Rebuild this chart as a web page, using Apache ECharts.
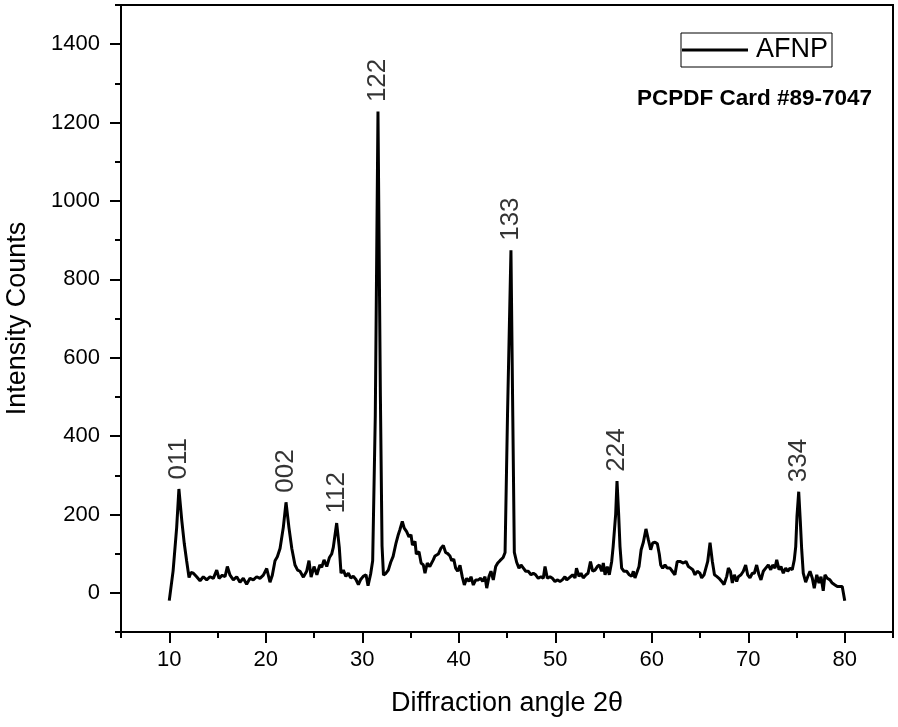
<!DOCTYPE html>
<html>
<head>
<meta charset="utf-8">
<script src="https://cdn.jsdelivr.net/npm/echarts@6/dist/echarts.min.js"></script>
<style>
  html, body { margin: 0; padding: 0; background: #fff; }
  #chart { width: 898px; height: 727px; }
</style>
</head>
<body>
<div id="chart"></div>
<script>
// 衍射角 2θ
const angle = [
  10.0, 10.4, 10.77, 11.0, 11.3, 11.56, 11.8, 12.05, 12.25, 12.5, 12.84, 13.19, 13.53, 13.88, 14.22, 14.57,
  14.92, 15.16, 15.5, 15.78, 16.02, 16.3, 16.64, 16.99, 17.33, 17.67, 18.02, 18.37, 18.71, 19.06, 19.4, 19.75,
  20.1, 20.44, 20.68, 20.96, 21.2, 21.48, 21.82, 22.1, 22.4, 22.7, 23.03, 23.3, 23.55, 23.9, 24.24, 24.48,
  24.7, 25.0, 25.3, 25.6, 25.8, 26.04, 26.32, 26.6, 26.83, 27.0, 27.35, 27.62, 27.8, 28.04, 28.3, 28.56,
  28.8, 29.07, 29.35, 29.6, 29.84, 30.1, 30.39, 30.6, 30.87, 31.08, 31.35, 31.63, 31.88, 32.05, 32.2, 32.46,
  32.7, 32.95, 33.2, 33.5, 33.74, 33.9, 34.15, 34.35, 34.6, 34.84, 35.05, 35.2, 35.47, 35.6, 35.88, 36.1,
  36.33, 36.5, 36.74, 37.0, 37.36, 37.54, 37.88, 38.16, 38.4, 38.64, 38.86, 39.09, 39.27, 39.48, 39.68, 39.89,
  40.13, 40.37, 40.58, 40.82, 41.06, 41.27, 41.51, 41.76, 42.03, 42.27, 42.48, 42.72, 42.9, 43.14, 43.34, 43.58,
  43.83, 44.04, 44.27, 44.45, 44.6, 44.8, 45.05, 45.41, 45.6, 45.76, 46.0, 46.24, 46.45, 46.7, 46.94, 47.2,
  47.49, 47.73, 47.97, 48.24, 48.52, 48.76, 48.94, 49.18, 49.46, 49.7, 49.97, 50.25, 50.49, 50.73, 51.0, 51.19,
  51.36, 51.53, 51.8, 52.05, 52.2, 52.46, 52.67, 52.9, 53.19, 53.4, 53.65, 53.88, 54.12, 54.36, 54.57, 54.81,
  54.98, 55.16, 55.39, 55.6, 55.85, 56.0, 56.26, 56.4, 56.57, 56.71, 56.88, 57.12, 57.4, 57.67, 57.92, 58.09,
  58.26, 58.44, 58.68, 58.9, 59.13, 59.4, 59.65, 59.89, 60.1, 60.34, 60.58, 60.78, 60.93, 61.13, 61.37, 61.61,
  61.89, 62.13, 62.4, 62.64, 62.93, 63.27, 63.55, 63.8, 64.04, 64.25, 64.48, 64.72, 65.0, 65.17, 65.42, 65.62,
  65.8, 66.04, 66.28, 66.5, 66.73, 66.97, 67.25, 67.49, 67.77, 67.94, 68.15, 68.35, 68.56, 68.8, 68.97, 69.25,
  69.49, 69.73, 69.94, 70.18, 70.42, 70.63, 70.87, 71.11, 71.32, 71.56, 71.81, 72.08, 72.33, 72.53, 72.77, 72.95,
  73.19, 73.39, 73.63, 73.88, 74.09, 74.33, 74.56, 74.77, 74.92, 75.05, 75.23, 75.39, 75.54, 75.7, 75.95, 76.16,
  76.4, 76.64, 76.84, 77.1, 77.33, 77.54, 77.77, 77.95, 78.19, 78.47, 78.7, 78.99, 79.23, 79.5, 79.74, 80.0
]
// 强度
const counts = [
  -20, 56, 167, 265, 184, 125, 82, 39, 52, 50, 41, 31, 41, 33, 41, 37,
  58, 37, 45, 41, 67, 45, 33, 41, 27, 37, 22, 37, 33, 41, 37, 45,
  62, 27, 45, 82, 92, 113, 167, 231, 167, 113, 71, 58, 55, 40, 55, 82,
  40, 67, 46, 71, 65, 84, 67, 90, 99, 116, 178, 116, 50, 58, 42, 50,
  38, 42, 34, 21, 34, 42, 46, 18, 48, 82, 450, 1228, 500, 120, 45, 50,
  58, 78, 93, 127, 149, 161, 182, 165, 156, 143, 148, 122, 131, 99, 105, 76,
  71, 50, 76, 67, 84, 94, 99, 114, 121, 103, 100, 94, 82, 86, 63, 55,
  70, 40, 20, 37, 29, 41, 20, 33, 33, 37, 29, 41, 12, 42, 55, 33,
  67, 76, 82, 78, 90, 103, 450, 874, 450, 103, 78, 63, 71, 63, 55, 55,
  46, 50, 46, 37, 41, 37, 67, 37, 41, 37, 29, 33, 29, 33, 41, 33,
  29, 40, 46, 38, 63, 42, 50, 38, 46, 50, 80, 55, 58, 67, 71, 55,
  76, 46, 67, 46, 80, 118, 200, 285, 200, 118, 63, 55, 55, 46, 42, 55,
  38, 42, 67, 110, 129, 163, 135, 110, 127, 129, 125, 99, 71, 63, 71, 63,
  63, 55, 46, 80, 80, 76, 80, 67, 63, 59, 46, 55, 50, 38, 46, 50,
  80, 128, 80, 46, 42, 37, 29, 21, 42, 63, 55, 25, 46, 29, 41, 46,
  55, 71, 46, 38, 50, 50, 71, 46, 33, 55, 63, 71, 59, 71, 63, 84,
  59, 67, 50, 63, 55, 63, 59, 84, 118, 195, 258, 185, 110, 50, 27, 41,
  55, 37, 12, 46, 25, 41, 5, 46, 37, 33, 25, 20, 16, 16, 16, -20
]

// 衍射峰标注
const peakLabels = ['011', '002', '112', '122', '133', '224', '334']
const peakAngle = [11.0, 22.1, 27.35, 31.63, 45.41, 56.4, 75.23]
const peakCounts = [265, 231, 178, 1228, 874, 285, 258]

// 刻度
const xMajor = [10, 20, 30, 40, 50, 60, 70, 80]
const xMinor = [5, 15, 25, 35, 45, 55, 65, 75, 85]
const yMajor = [0, 200, 400, 600, 800, 1000, 1200, 1400]
const yMinor = [-100, 100, 300, 500, 700, 900, 1100, 1300, 1500]

const font = "'Liberation Sans', Arial, sans-serif"

let myChart = echarts.init(document.getElementById('chart'))
let option = {
  animation: false,
  title: {
    text: 'PCPDF Card #89-7047',
    right: 21,
    top: 82,
    textStyle: { fontFamily: font, fontSize: 22.5, fontWeight: 'bold', color: '#000' }
  },
  legend: {
    data: [{ name: 'AFNP', icon: 'rect' }],
    left: 681,
    top: 33,
    orient: 'horizontal',
    borderColor: '#000',
    borderWidth: 1,
    padding: [3, 4, 3, 1],
    itemWidth: 66,
    itemHeight: 3,
    itemGap: 0,
    textStyle: { fontFamily: font, fontSize: 27, color: '#000', lineHeight: 28, padding: [0, 0, 0, 3] }
  },
  grid: {
    left: 121,
    right: 5,
    top: 5,
    bottom: 95,
    outerBoundsMode: 'none',
    show: true,
    borderColor: '#000',
    borderWidth: 2,
    backgroundColor: 'transparent'
  },
  xAxis: [
    {
      type: 'value',
      min: 5,
      max: 85,
      position: 'bottom',
      name: 'Diffraction angle 2\u03b8',
      nameLocation: 'middle',
      nameGap: 58,
      nameTextStyle: { fontFamily: font, fontSize: 27, color: '#000' },
      axisLine: { show: true, onZero: false, lineStyle: { color: '#000', width: 2 } },
      axisTick: { show: true, customValues: xMajor, length: 11, lineStyle: { color: '#000', width: 2 } },
      axisLabel: { customValues: xMajor, margin: 17, fontFamily: font, fontSize: 22, color: '#000' },
      splitLine: { show: false }
    },
    {
      type: 'value',
      min: 5,
      max: 85,
      position: 'bottom',
      axisLine: { show: false, onZero: false },
      axisTick: { show: true, customValues: xMinor, length: 6, lineStyle: { color: '#000', width: 2 } },
      axisLabel: { show: false },
      splitLine: { show: false }
    }
  ],
  yAxis: [
    {
      type: 'value',
      min: -100,
      max: 1500,
      position: 'left',
      name: 'Intensity Counts',
      nameLocation: 'middle',
      nameGap: 90,
      nameTextStyle: { fontFamily: font, fontSize: 27, color: '#000' },
      axisLine: { show: true, onZero: false, lineStyle: { color: '#000', width: 2 } },
      axisTick: { show: true, customValues: yMajor, length: 11, lineStyle: { color: '#000', width: 2 } },
      axisLabel: {
        customValues: yMajor,
        margin: 21,
        formatter: (v) => String(v),
        fontFamily: font,
        fontSize: 22,
        color: '#000'
      },
      splitLine: { show: false }
    },
    {
      type: 'value',
      min: -100,
      max: 1500,
      position: 'left',
      axisLine: { show: false, onZero: false },
      axisTick: { show: true, customValues: yMinor, length: 6, lineStyle: { color: '#000', width: 2 } },
      axisLabel: { show: false },
      splitLine: { show: false }
    }
  ],
  series: [
    {
      name: 'AFNP',
      type: 'line',
      data: angle.map((a, i) => [a, counts[i]]),
      symbol: 'none',
      color: '#000',
      lineStyle: { color: '#000', width: 3 }
    },
    {
      name: 'peaks',
      type: 'scatter',
      data: peakAngle.map((a, i) => ({ name: peakLabels[i], value: [a, peakCounts[i]] })),
      symbolSize: 1,
      itemStyle: { color: 'rgba(0,0,0,0)' },
      label: {
        show: true,
        formatter: '{b}',
        position: 'top',
        distance: 9,
        rotate: 90,
        align: 'left',
        verticalAlign: 'middle',
        fontFamily: font,
        fontSize: 26,
        color: '#000'
      },
      silent: true
    }
  ]
}
myChart.setOption(option)
</script>
</body>
</html>
